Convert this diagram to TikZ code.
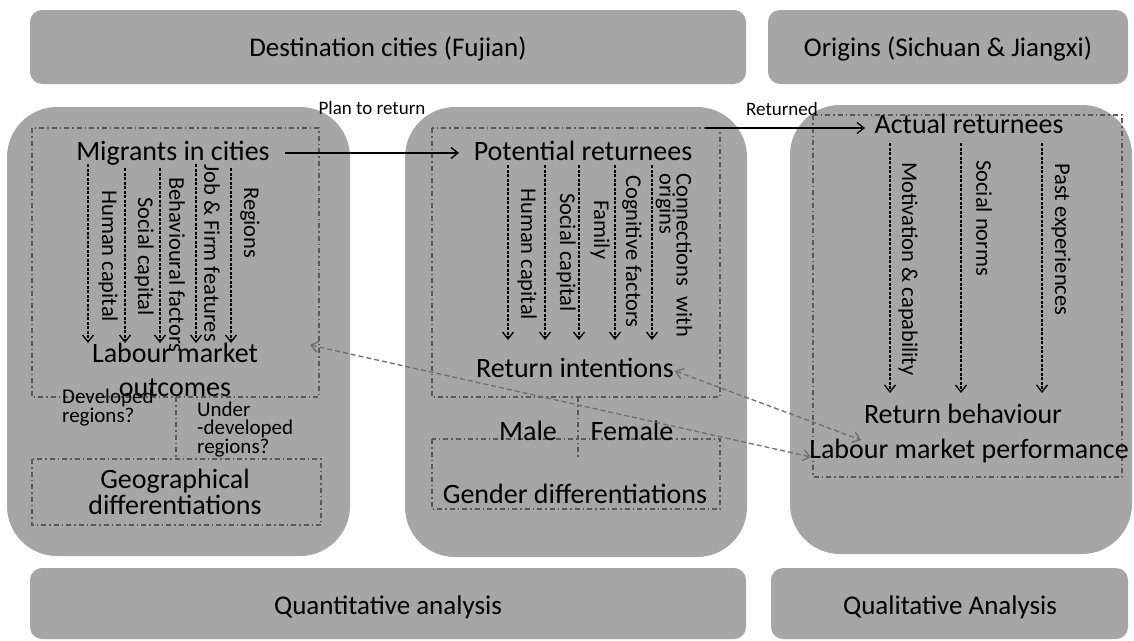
\documentclass[tikz,border=0pt]{standalone}
\usepackage{fontspec}
\setmainfont{Carlito}
\usetikzlibrary{arrows.meta}
\definecolor{boxgray}{HTML}{A6A6A6}
\definecolor{dashgray}{HTML}{595959}
\definecolor{arrgray}{HTML}{6E6E6E}
\begin{document}
\begin{tikzpicture}[x=1pt,y=-1pt,
  bar/.style={fill=boxgray, draw=none, rounded corners=12pt},
  panel/.style={fill=boxgray, draw=none, rounded corners=50pt},
  ddbox/.style={draw=dashgray, line width=1.2pt, dash pattern=on 5pt off 3pt on 1.5pt off 3pt},
  big/.style={inner sep=0pt, anchor=base, font=\fontsize{28}{32}\selectfont},
  title/.style={inner sep=0pt, anchor=base, font=\fontsize{27}{32}\selectfont},
  lab/.style={inner sep=0pt, anchor=west, rotate=-90, font=\fontsize{22.5}{18}\selectfont},
  small/.style={inner sep=0pt, font=\fontsize{21}{18.5}\selectfont},
  factor/.style={-{Straight Barb[length=7pt,width=11pt]}, line width=1.3pt, dash pattern=on 3pt off 1.5pt},
  flow/.style={-{Straight Barb[length=7pt,width=11pt]}, line width=1.3pt},
  link/.style={{Straight Barb[length=7pt,width=11pt]}-{Straight Barb[length=7pt,width=11pt]}, draw=arrgray, line width=1.3pt, dash pattern=on 5pt off 3pt}
]
\useasboundingbox (0,0) rectangle (1134,640);
% bars
\path[bar] (30,10) rectangle (746,84);
\path[bar] (768,10) rectangle (1128,84);
\path[bar] (30,568) rectangle (746,639);
\path[bar] (771,568) rectangle (1128,639);
\node[title] (tdest) at (388,56) {Destination cities (Fujian)};
\node[title] (torig) at (948,56) {Origins (Sichuan \& Jiangxi)};
\node[title] (tquan) at (388,614) {Quantitative analysis};
\node[title] (tqual) at (950,614) {Qualitative Analysis};
% panels
\path[panel] (7,107) rectangle (350,556);
\path[panel] (405,107) rectangle (747,557);
\path[panel] (790,105) rectangle (1132,554);
% dash-dot boxes
\draw[ddbox] (32,128) rectangle (319,397);
\draw[ddbox] (32,459) rectangle (321,525);
\draw[ddbox] (176,397) -- (176,459);
\draw[ddbox] (432,128) rectangle (720,397);
\draw[ddbox] (432,439) rectangle (720,509);
\draw[ddbox] (578,397) -- (578,458);
\draw[ddbox] (813,115) rectangle (1122,477);
% left panel
\node[big] (mig) at (173,160) {Migrants in cities};
\node[big, align=center, font=\fontsize{28}{34}\selectfont] (lmo) at (175,396) {Labour market\\outcomes};
\node[small, anchor=base west, align=left] (dev) at (62,422) {Developed\\regions?};
\node[small, anchor=base west, align=left] (und) at (197,453) {Under\\-developed\\regions?};
\node[big, align=center, font=\fontsize{28}{26}\selectfont] (geo) at (175,514) {Geographical\\differentiations};
\node[lab] (l1) at (108,190) {Human capital};
\node[lab] (l2) at (144,197) {Social capital};
\node[lab] (l3) at (177,177) {Behavioural factors};
\node[lab] (l4) at (212,164) {Job \& Firm features};
\node[lab] (l5) at (250,187) {Regions};
\foreach \i/\x/\s in {1/88/164,2/125/168,3/160/168,4/196/164,5/231/168}{
  \coordinate (la\i) at (\x,\s);
  \coordinate (lb\i) at (\x,343);
  \draw[factor] (la\i) -- (lb\i);
}
% middle panel
\node[big] (pot) at (583,160) {Potential returnees};
\node[big] (ri) at (575,377) {Return intentions};
\node[big] (male) at (528,440) {Male};
\node[big] (fem) at (632,440) {Female};
\node[big] (gen) at (575,503) {Gender differentiations};
\node[lab] (m1) at (527,188) {Human capital};
\node[lab] (m2) at (566,193) {Social capital};
\node[lab] (m3) at (600,200) {Family};
\node[lab] (m4) at (632,175) {Cognitive factors};
\node[lab, align=left, font=\fontsize{22.5}{17}\selectfont] (m5) at (674,173) {Connections\hspace{0.45em}with\\origins};
\foreach \i/\x in {1/508,2/545,3/579,4/615,5/652}{
  \coordinate (ma\i) at (\x,165);
  \coordinate (mb\i) at (\x,340);
  \draw[factor] (ma\i) -- (mb\i);
}
% right panel
\node[big] (act) at (969,133) {Actual returnees};
\node[big] (rb) at (963,423) {Return behaviour};
\node[big] (lmp) at (969,458) {Labour market performance};
\node[lab] (r1) at (908,162) {Motivation \& capability};
\node[lab] (r2) at (984,160) {Social norms};
\node[lab] (r3) at (1061,163) {Past experiences};
\foreach \i/\x in {1/890,2/961,3/1042}{
  \coordinate (ra\i) at (\x,143);
  \coordinate (rb\i) at (\x,393);
  \draw[factor] (ra\i) -- (rb\i);
}
% flows
\coordinate (p0) at (285,153);
\coordinate (p1) at (459,153);
\draw[flow] (p0) -- (p1);
\node[small, anchor=base, font=\fontsize{19}{20}\selectfont] (plan) at (372,114) {Plan to return};
\coordinate (q0) at (705,128);
\coordinate (q1) at (865,128);
\draw[flow] (q0) -- (q1);
\node[small, anchor=base, font=\fontsize{19}{20}\selectfont] (retd) at (782,115) {Returned};
% links
\coordinate (ga1) at (310,345);
\coordinate (ga2) at (811,457);
\coordinate (gb1) at (675,371);
\coordinate (gb2) at (861,440);
\draw[link] (ga1) -- (ga2);
\draw[link] (gb1) -- (gb2);
\end{tikzpicture}
\end{document}
